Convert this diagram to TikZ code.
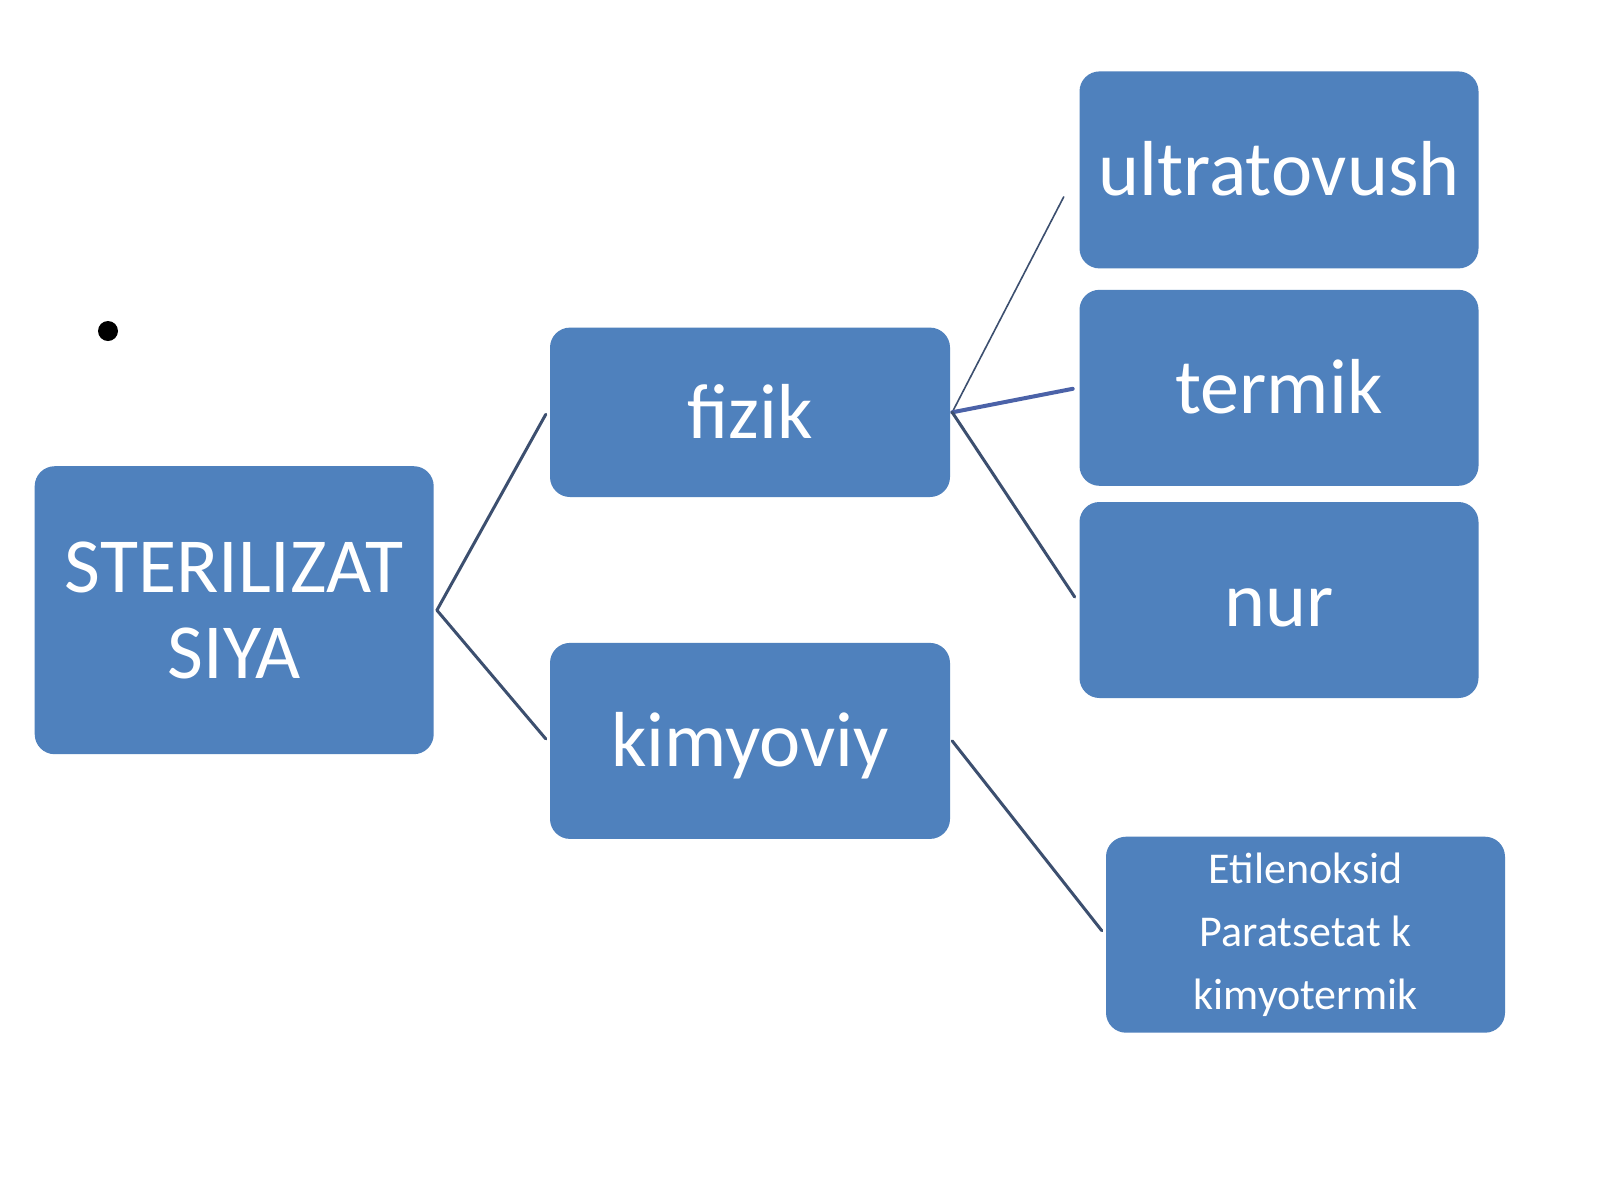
\documentclass[tikz,border=0pt]{standalone}
\usepackage{fontspec}
\setmainfont{Carlito}
\usetikzlibrary{calc}
\definecolor{boxblue}{HTML}{4F81BD}
\definecolor{linedark}{HTML}{3C4F6F}
\definecolor{lineblue}{HTML}{4B62A8}
\tikzset{
  box/.style={rectangle, rounded corners=20pt, fill=boxblue, text=white, inner sep=0pt, align=center},
  bigtxt/.style={font=\fontsize{78}{86}\selectfont, text height=52pt, text depth=0pt},
  conn/.style={draw=linedark, line width=3pt, line cap=round},
}
\begin{document}
\begin{tikzpicture}[x=1pt,y=-1pt]
\fill[white] (0,0) rectangle (1600,1200);
\useasboundingbox (0,0) rectangle (1600,1200);

\node[circle, fill=black, minimum size=20pt, inner sep=0pt] (bullet) at (108,331) {};

\node[box, minimum width=399pt, minimum height=288pt, font=\fontsize{78}{86}\selectfont] (root) at (234.2,610.2) {STERILIZAT\\SIYA};

\node[box, bigtxt, minimum width=400pt, minimum height=169.4pt] (fizik) at (750,412.3) {fizik};
\node[box, bigtxt, minimum width=400pt, minimum height=196pt] (kimyo) at (750,740.9) {kimyoviy};

\node[box, bigtxt, minimum width=399pt, minimum height=197pt] (ultra) at (1279,169.9) {ultratovush};
\node[box, bigtxt, minimum width=399pt, minimum height=196pt] (termik) at (1279,387.8) {termik};
\node[box, bigtxt, minimum width=399pt, minimum height=196pt] (nur) at (1279,600) {nur};

\node[box, minimum width=399pt, minimum height=196pt, font=\fontsize{44}{63}\selectfont] (etil) at (1305.5,934.7) {Etilenoksid\\Paratsetat k\\kimyotermik};

\draw[conn] ($(root.east)+(3,0)$) -- ($(fizik.west)+(-4,2)$);
\draw[conn] ($(root.east)+(3,0)$) -- ($(kimyo.west)+(-4,-2)$);

\draw[conn, line width=1.6pt] ($(fizik.east)+(2,0)$) -- ($(ultra.west)+(-15.6,27)$);
\draw[conn, draw=lineblue, line width=4pt] ($(fizik.east)+(2,0)$) -- ($(termik.west)+(-6.6,1)$);
\draw[conn] ($(fizik.east)+(2,0)$) -- ($(nur.west)+(-4.6,-3)$);

\draw[conn] ($(kimyo.east)+(2,0)$) -- ($(etil.west)+(-4,-4)$);
\end{tikzpicture}
\end{document}
